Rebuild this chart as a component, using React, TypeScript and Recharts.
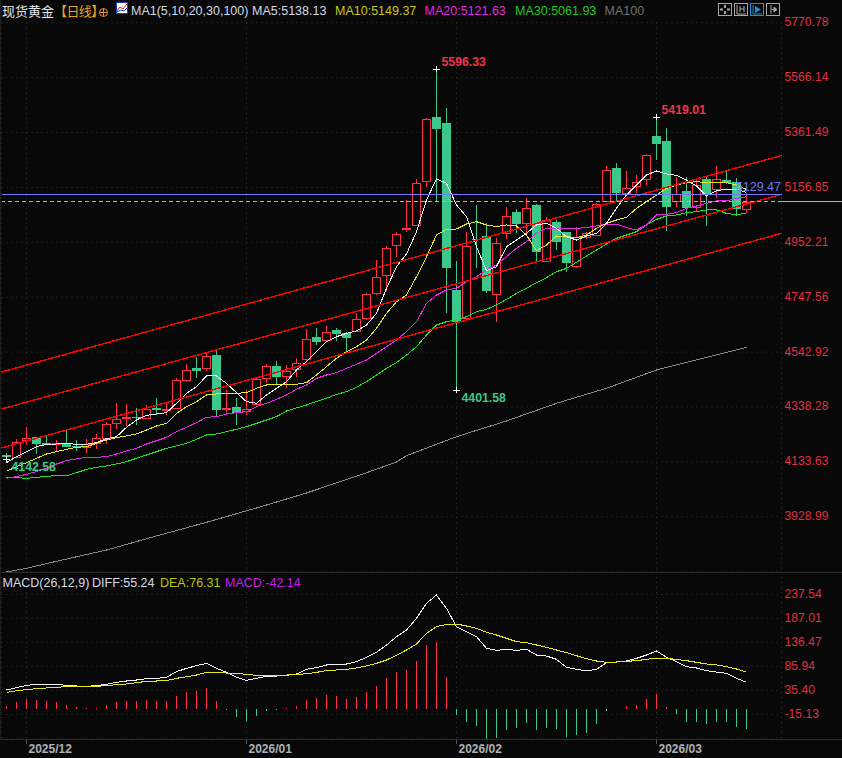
import {
  Bar,
  CartesianGrid,
  ComposedChart,
  Line,
  ReferenceDot,
  ReferenceLine,
  XAxis,
  YAxis,
} from "recharts";

// candles, left to right
const opens = [4161,4153,4215,4225,4203,4200,4205,4193,4188,4203,4222,4277,4296,4301,4299,4333,4327,4336,4440,4482,4482,4532,4331,4338,4325,4350,4445,4491,4455,4479,4516,4599,4587,4625,4613,4621,4669,4762,4829,4942,5001,5016,5180,5418,5396,4774,4671,4963,4976,4758,4986,5064,5025,5091,4884,5029,4990,4864,4973,4979,5107,5228,5137,5163,5187,5349,5329,5106,5142,5083,5188,5150,5184,5178,5075];
const highs = [4168,4220,4263,4228,4234,4215,4253,4215,4219,4236,4284,4352,4348,4333,4345,4371,4352,4448,4499,4523,4545,4547,4402,4371,4402,4449,4499,4510,4495,4521,4628,4633,4640,4634,4618,4688,4764,4886,4938,4990,5110,5187,5417,5596.33,5452,4883,4992,5091,5023,4967,5083,5076,5116,5095,5048,5035,4992,5010,4992,5098,5238,5249,5219,5203,5281,5419.01,5377,5195,5197,5184,5195,5238,5222,5193,5135];
const lows = [4142.58,4151,4197,4163,4195,4174,4188,4174,4168,4181,4200,4256,4268,4273,4295,4309,4309,4336,4430,4446,4474,4305,4321,4271,4309,4346,4427,4420,4409,4451,4507,4569,4582,4585,4544,4618,4663,4756,4772,4899,4992,5013,5160,5107,4688,4401.58,4669,4855,4762,4656,4965,4988,4988,4876,4880,4924,4843,4855,4963,4977,5104,5104,5132,5135,5166,5259,4996,5083,5051,5066,5013,5119,5169,5051,5063];
const closes = [4151,4209,4224,4200,4198,4203,4190,4189,4202,4222,4274,4292,4300,4299,4330,4328,4330,4438,4478,4474,4528,4327,4335,4316,4330,4441,4491,4451,4473,4501,4591,4581,4619,4610,4594,4665,4758,4824,4930,4982,5004,5174,5411,5376,4858,4654,4940,4960,4772,4951,5051,5020,5079,4917,5035,4955,4876,4971,4986,5095,5221,5137,5156,5178,5277,5320,5085,5133,5079,5166,5129,5187,5172,5076,5101];

const ma5 = [4130.8,4153.2,4171.8,4190.4,4199.1,4200.4,4202.9,4199.1,4199.1,4205.4,4220.3,4227.7,4262.5,4289.8,4307.3,4312.2,4317.2,4352,4389.3,4414.1,4453.9,4453.9,4426.5,4391.7,4358.2,4352,4383,4407.9,4432.7,4476.2,4507.3,4544.5,4581.8,4600.4,4612.9,4621.6,4644,4687.4,4780.6,4861.4,4908.6,4991.8,5109.9,5188.2,5172,5091.2,5047.8,4935.9,4846.5,4861.4,4935.9,4960.8,4985.7,5016.7,5022.9,5004.3,4973.2,4960.8,4975.7,4985.7,5022.9,5078.8,5128.5,5165.8,5203.1,5218,5206.8,5201.8,5184.4,5162,5124.8,5144.7,5149.7,5149.7,5138.13];
const ma10 = [4098.5,4115.9,4130.8,4146.9,4163.1,4171.8,4180.5,4187.9,4190.4,4202.9,4215.3,4224,4230.2,4237.7,4252.6,4267.5,4277.4,4314.7,4339.6,4358.2,4383,4386.8,4386.8,4389.3,4391.7,4407.9,4420.3,4420.3,4420.3,4422.8,4429,4457.6,4488.6,4519.7,4544.5,4563.2,4588,4631.5,4687.4,4730.9,4755.8,4824.1,4898.7,4979.4,5000.5,5001.8,5020.4,5029.1,5016.7,5010.5,5016.7,5013,4979.4,4921,4942.2,4975.7,4973.2,4969.5,4979.4,5004.3,5022.9,5035.3,5045.3,5078.8,5103.7,5128.5,5153.4,5165.8,5174.5,5178.2,5174.5,5174.5,5174.5,5165.8,5149.37];
const ma20 = [4072.4,4078.6,4087.3,4097.3,4109.7,4125.8,4138.3,4144.5,4150.7,4150.7,4153.2,4163.1,4174.3,4184.2,4200.4,4212.8,4225.2,4246.4,4262.5,4279.9,4299.8,4302.3,4312.2,4317.2,4320.9,4339.6,4352,4366.9,4383,4404.1,4420.3,4445.1,4457.6,4466.3,4482.4,4497.3,4513.5,4538.3,4563.2,4588,4619.1,4656.4,4724.7,4755.8,4774.4,4780.6,4805.5,4824.1,4848.9,4867.6,4898.7,4929.7,4954.6,4985.7,5004.3,5004.3,5004.3,5004.3,5006.8,5013,5020.4,5020.4,5006.8,4998.1,5016.7,5054,5056.4,5062.7,5078.8,5087.5,5097.5,5106.2,5106.2,5116.2,5121.63];
const ma30 = [4076.1,4074.9,4072.4,4076.1,4079.9,4082.3,4082.3,4093.5,4105.9,4113.4,4118.4,4125.8,4134.5,4147,4159.4,4171.8,4184.2,4192.9,4202.9,4217.8,4233.9,4237.7,4246.4,4255.1,4265,4277.4,4289.8,4302.3,4323.4,4334.6,4345.7,4358.8,4370.6,4385.5,4395.4,4411.6,4432.7,4457.6,4482.4,4503.6,4532.1,4563.2,4606.7,4644,4656.4,4662.6,4675,4693.6,4702.3,4718.5,4739.6,4762,4780.6,4801.8,4820.4,4842.7,4855.2,4877.6,4901.2,4923.5,4945.9,4967,4979.4,4991.9,5016.7,5037.8,5050.3,5054,5062.7,5066.4,5072.6,5072.6,5060.2,5054,5061.93];
// MA100 read at a few candles only, the line joins them
const ma100Index = [0,2,5,10,15,20,25,30,35,39,40,45,50,55,60,65,70,74];
const ma100 = [3723.2,3737,3763.1,3805.2,3857.5,3908.5,3961.8,4017.7,4080,4133.3,4156.8,4227.6,4286.1,4352.1,4408,4476.2,4523.6,4560.9];

const diff = [39,43.9,48.8,50.9,50.9,50.9,48.8,47.4,46.7,48.1,50.9,55.1,57.9,60,62.8,63.5,65.6,77.6,84.6,90.2,95.1,84.6,76.1,65.6,59.3,63.5,67.7,68.4,69.8,72.6,82.5,86,91.6,93,93.7,98.6,107.7,118.3,133.7,151.2,165.3,189.8,221.4,239,210.9,172.3,161.8,151.2,126.7,122.5,124.6,122.5,124.6,112.6,110.5,103.5,86.7,82.5,79,82.5,96.5,97.9,100,105.6,112.6,121.1,107.7,98.6,88.1,85.3,79.7,76.8,74,63.5,55.24];
const dea = [34,37.5,39.7,41.8,43.2,44.6,46,46.7,46.7,46.7,48.1,50.2,51.6,54.4,57.2,57.9,58.6,63.5,67,70.5,76.1,76.1,74.7,74,71.9,69.8,69.8,69.8,70.5,71.2,73.3,76.1,79.7,81.1,82.5,85.3,89.5,95.1,102.1,112,123.2,135.8,158.3,172.3,177.2,177.9,173.7,168.8,160.4,154.8,147.7,140.7,138.6,133.7,128.8,123.2,117.6,111.2,104.9,100,97.2,97.9,99.3,100.7,103.5,106.3,105.6,103.5,100.7,97.2,93.7,91.6,88.1,83.2,76.31];
const macd = [5.6,14,19.7,18.2,16.1,14,7.7,3.5,1.4,1.4,7.7,14,16.1,16.1,18.2,16.1,16.1,26.7,35.1,37.2,43.5,16.1,-2.1,-17.5,-25.3,-15.4,-4.9,-2.8,1.4,5.6,18.2,22.5,28.8,26.7,20.4,24.6,35.1,47.7,64.6,77.2,81.4,100.4,134,140.4,66.7,-13.3,-28.1,-36.5,-63.9,-61.8,-44.9,-40.7,-30.2,-44.9,-40.7,-42.8,-59.7,-55.5,-51.2,-32.3,-4.9,-0.7,5.6,7.7,20.4,30.9,3.5,-11.2,-28.1,-28.1,-32.3,-28.1,-28.1,-38.6,-42.14];

const priceTicks = [5770.78,5566.14,5361.49,5156.85,4952.21,4747.56,4542.92,4338.28,4133.63,3928.99];
const macdTicks = [237.54,187.01,136.47,85.94,35.4,-15.13];
const dateIndex = [2,24,45,65];
const dateLabels = ["2025/12","2026/01","2026/02","2026/03"];

// price at both ends of the channel lines
const channels = [
  [4468.5, 5275.9],
  [4330.8, 5130.8],
  [4185.8, 4985.7],
];
const channelEnds = [-0.5, 77.5];
const markedIndex = [0,43,45,65];
const markedValue = [4142.58,5596.33,4401.58,5419.01];
const lastPrice = 5103.6;
const levelPrice = 5129.47;

const BG = "#080808";
const RED = "#ff3048";
const GREEN = "#3cc88a";
const AXIS_RED = "#e62d42";
const GRID = "#343434";
const ORANGE = "#eda651";
const SANS = "'Liberation Sans', Arial, sans-serif";
const CJK = "'Noto Sans CJK SC', sans-serif";

const rows = opens.map((open, i) => ({
  i,
  open,
  close: closes[i],
  range: [lows[i], highs[i]],
  ma5: ma5[i],
  ma10: ma10[i],
  ma20: ma20[i],
  ma30: ma30[i],
  ma100: ma100Index.includes(i) ? ma100[ma100Index.indexOf(i)] : null,
  diff: diff[i],
  dea: dea[i],
  macd: macd[i],
}));

const xDomain: [number, number] = [-0.5, 77.5];
const xTicks = [...dateIndex, 77.5];

// the bar spans low..high, open and close are placed by proportion inside it
const Candle = (props: any) => {
  const { x, y, width, height, payload } = props;
  const [low, high] = payload.range;
  const cx = Math.floor(x + width / 2) + 0.5;
  const toY = (v: number) => y + ((high - v) / (high - low)) * height;
  const up = payload.close >= payload.open;
  const top = Math.round(toY(Math.max(payload.open, payload.close)));
  const bottom = Math.round(toY(Math.min(payload.open, payload.close)));
  const color = up ? RED : GREEN;
  return (
    <g shapeRendering="crispEdges">
      <line x1={cx} x2={cx} y1={y} y2={y + height} stroke={color} strokeWidth={1} />
      {up ? (
        <rect
          x={cx - 4}
          y={top + 0.5}
          width={8}
          height={Math.max(bottom - top, 1)}
          fill={BG}
          stroke={color}
          strokeWidth={1}
        />
      ) : (
        <rect
          x={cx - 4.5}
          y={top}
          width={9}
          height={Math.max(bottom - top, 1)}
          fill={color}
        />
      )}
    </g>
  );
};

const MacdBar = (props: any) => {
  const { x, y, width, height, payload } = props;
  const cx = Math.floor(x + width / 2);
  const top = Math.min(y, y + height);
  return (
    <rect
      x={cx}
      y={top}
      width={1}
      height={Math.abs(height)}
      fill={payload.macd >= 0 ? RED : GREEN}
      shapeRendering="crispEdges"
    />
  );
};

const AxisTick = (props: any) => {
  const { x, y, payload } = props;
  return (
    <text x={x - 5} y={y + 3.5} fill={AXIS_RED} fontSize={12} fontFamily={SANS} letterSpacing={0.1}>
      {payload.value.toFixed(2)}
    </text>
  );
};

const DateTick = (props: any) => {
  const { x, y, payload } = props;
  const at = dateIndex.indexOf(payload.value);
  if (at < 0) return null;
  return (
    <g>
      <line x1={x} x2={x} y1={y - 1} y2={y + 3} stroke="#555" />
      <text x={x + 2} y={y + 12} fill="#adb2b8" fontSize={12} fontWeight="bold" fontFamily={SANS}>
        {dateLabels[at]}
      </text>
    </g>
  );
};

const Marker = (value: number) => (props: any) => {
  const { cx, cy } = props;
  const isHigh = value > 5000;
  return (
    <g>
      <line x1={cx - 3.5} x2={cx + 3.5} y1={cy} y2={cy} stroke="#fff" shapeRendering="crispEdges" />
      <line x1={cx} x2={cx} y1={cy - 3} y2={cy + 3} stroke="#fff" shapeRendering="crispEdges" />
      <text
        x={cx + 5}
        y={isHigh ? cy - 3.5 : cy + 11.5}
        fill={isHigh ? "#f0324a" : GREEN}
        fontSize={12.3}
        fontWeight="bold"
        fontFamily={SANS}
      >
        {value.toFixed(2)}
      </text>
    </g>
  );
};

const topLegend = [
  { x: 131, text: "MA1(5,10,20,30,100)", color: "#d5dbe6" },
  { x: 252, text: "MA5:5138.13", color: "#d5dbe6" },
  { x: 335, text: "MA10:5149.37", color: "#c8c810" },
  { x: 424.5, text: "MA20:5121.63", color: "#e028e0" },
  { x: 515, text: "MA30:5061.93", color: "#20c820" },
  { x: 604.5, text: "MA100", color: "#737373" },
];

const macdLegend = [
  { x: 2.5, text: "MACD(26,12,9)", color: "#d5dbe6" },
  { x: 92, text: "DIFF:55.24", color: "#d5dbe6" },
  { x: 160, text: "DEA:76.31", color: "#b8c800" },
  { x: 225, text: "MACD:-42.14", color: "#c020e8" },
];

const legendText = (item: any, top: number) => (
  <span
    key={item.text}
    style={{
      position: "absolute",
      left: item.x,
      top,
      color: item.color,
      fontFamily: SANS,
      fontSize: 12.5,
      lineHeight: "16px",
      whiteSpace: "nowrap",
    }}
  >
    {item.text}
  </span>
);

const Toolbar = () => (
  <svg
    width={66}
    height={16}
    style={{ position: "absolute", left: 716, top: 1 }}
    fill="none"
    stroke="#a8a8a8"
  >
    <rect x={2.5} y={2.5} width={13} height={12} />
    <path d="M9 4v3M9 10v3M4 8.5h3M11 8.5h3" strokeWidth={2} />
    <rect x={18.5} y={2.5} width={13} height={12} />
    <path d="M21 4v9h9M24 5v6M28 5v6M24 8h4" />
    <rect x={34.5} y={2.5} width={13} height={12} stroke="#1a8fe0" />
    <path d="M37 4v9h9" stroke="#1a8fe0" />
    <path d="M39 5l6 3.5-6 3.5z" fill="#1a8fe0" stroke="none" />
    <rect x={50.5} y={2.5} width={13} height={12} />
    <path d="M55 4v9" />
    <path d="M56 8.5h4M58 6l3 2.5-3 2.5z" fill="#a8a8a8" />
  </svg>
);

const Header = () => (
  <>
    <span
      style={{
        position: "absolute",
        left: 2,
        top: 2,
        fontFamily: CJK,
        fontSize: 13,
        lineHeight: "18px",
        color: "#e4e8ee",
        whiteSpace: "nowrap",
      }}
    >
      现货黄金<span style={{ color: "#f0a030", letterSpacing: -0.6 }}>【日线】</span>
    </span>
    <svg width={12} height={12} style={{ position: "absolute", left: 98, top: 7 }} fill="none" stroke="#e09030">
      <circle cx={5.5} cy={5.5} r={4} />
      <path d="M1.5 5.5h8M5.5 1.5v8" />
    </svg>
    <svg width={12} height={13} style={{ position: "absolute", left: 116, top: 2 }}>
      <rect x={0.5} y={0.5} width={11} height={11} fill="#fff" stroke="#2040c0" />
      <path d="M1 9l3-4 3 2 4-5" fill="none" stroke="#e02020" />
      <path d="M1 10l4-2 3 1 3-3" fill="none" stroke="#2040c0" />
    </svg>
    {topLegend.map((item) => legendText(item, 3))}
    <Toolbar />
    {macdLegend.map((item) => legendText(item, 574.5))}
  </>
);

const maLine = (key: string, color: string) => (
  <Line
    dataKey={key}
    stroke={color}
    strokeWidth={1}
    dot={false}
    connectNulls
    shapeRendering="crispEdges"
    isAnimationActive={false}
  />
);

export default function App() {
  return (
    <div style={{ position: "relative", width: 842, height: 758, background: BG, overflow: "hidden" }}>
      <style>{`body{margin:0;background:${BG}}`}</style>

      <div style={{ position: "absolute", left: 0, top: 0 }}>
        <ComposedChart
          width={842}
          height={573}
          data={rows}
          margin={{ top: 22.7, right: 0.5, bottom: 1, left: 1.5 }}
        >
          <CartesianGrid stroke={GRID} strokeDasharray="1 4" />
          <XAxis dataKey="i" type="number" domain={xDomain} ticks={xTicks} hide />
          <YAxis
            orientation="right"
            width={60}
            domain={[3723.2, 5770.78]}
            ticks={priceTicks}
            interval={0}
            axisLine={false}
            tickLine={false}
            tick={<AxisTick />}
            allowDataOverflow
          />
          <Bar dataKey="range" barSize={9} shape={<Candle />} isAnimationActive={false} />
          {maLine("ma100", "#8a8a8a")}
          {maLine("ma30", "#20e020")}
          {maLine("ma20", "#e828e8")}
          {maLine("ma10", "#e8e820")}
          {maLine("ma5", "#f2f2f2")}
          {channels.map((c, n) => (
            <ReferenceLine
              key={n}
              segment={[
                { x: channelEnds[0], y: c[0] },
                { x: channelEnds[1], y: c[1] },
              ]}
              stroke="#ff0000"
              strokeWidth={1.4}
              shapeRendering="crispEdges"
              ifOverflow="visible"
            />
          ))}
          <ReferenceLine y={levelPrice} stroke="#7a74ff" strokeWidth={1} shapeRendering="crispEdges" />
          <ReferenceLine y={lastPrice} stroke={ORANGE} strokeDasharray="4 3" shapeRendering="crispEdges" />
          <ReferenceLine
            segment={[
              { x: 77.5, y: lastPrice },
              { x: 83.6, y: lastPrice },
            ]}
            stroke={ORANGE}
            shapeRendering="crispEdges"
            ifOverflow="visible"
          />
          {markedIndex.map((at, n) => (
            <ReferenceDot
              key={at}
              x={at}
              y={markedValue[n]}
              shape={Marker(markedValue[n])}
              ifOverflow="visible"
            />
          ))}
          <ReferenceDot
            x={76.4}
            y={levelPrice}
            ifOverflow="visible"
            shape={(p: any) => (
              <text
                x={p.cx + 10.5}
                y={p.cy - 4}
                textAnchor="end"
                fill="#6a78f0"
                fontSize={12.5}
                fontFamily={SANS}
              >
                {levelPrice.toFixed(2)}
              </text>
            )}
          />
        </ComposedChart>
      </div>

      <div style={{ position: "absolute", left: 0, top: 572 }}>
        <ComposedChart
          width={842}
          height={186}
          data={rows}
          margin={{ top: 0, right: 0.5, bottom: 0, left: 1.5 }}
        >
          <CartesianGrid stroke={GRID} strokeDasharray="1 4" yAxisId="label" />
          <XAxis
            dataKey="i"
            type="number"
            domain={xDomain}
            ticks={xTicks}
            height={19}
            axisLine={false}
            tickLine={false}
            tickSize={0}
            interval={0}
            tick={<DateTick />}
          />
          <YAxis
            yAxisId="label"
            orientation="right"
            width={60}
            domain={[-67.1, 284.5]}
            ticks={macdTicks}
            interval={0}
            axisLine={false}
            tickLine={false}
            tick={<AxisTick />}
            allowDataOverflow
          />
          {/* series sit about a pixel lower than the printed tick labels */}
          <YAxis yAxisId="data" orientation="left" width={0} hide domain={[-64.2, 287.4]} allowDataOverflow />
          <Bar yAxisId="data" dataKey="macd" barSize={1} shape={<MacdBar />} isAnimationActive={false} />
          <Line yAxisId="data" dataKey="diff" stroke="#f2f2f2" strokeWidth={1} dot={false} shapeRendering="crispEdges" isAnimationActive={false} />
          <Line yAxisId="data" dataKey="dea" stroke="#e8e820" strokeWidth={1} dot={false} shapeRendering="crispEdges" isAnimationActive={false} />
        </ComposedChart>
      </div>

      {/* pane borders */}
      <div style={{ position: "absolute", left: 0, top: 572, width: 842, height: 1, background: "#2c2c2c" }} />
      <div style={{ position: "absolute", left: 0, top: 739, width: 842, height: 1, background: "#2c2c2c" }} />
      <div style={{ position: "absolute", left: 0, top: 0, width: 1, height: 739, background: "#1c1c1c" }} />

      <Header />
    </div>
  );
}
